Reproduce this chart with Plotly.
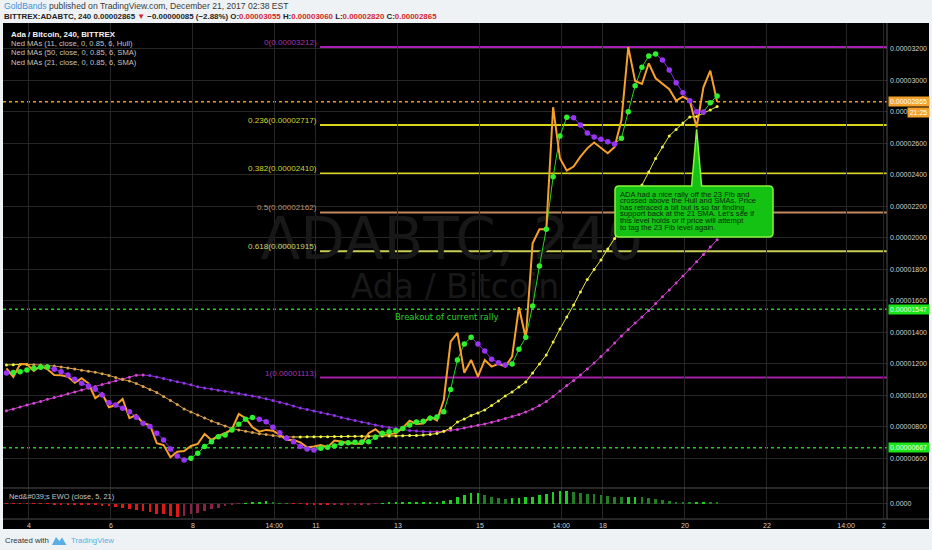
import plotly.graph_objects as go

W, H = 932, 550
SAT = 1e-8

# ---------------- data (prices in satoshi) ----------------
start_day = 3.45          # day-of-month of first 4h bar
bar_step = 1 / 6          # 4h bars

close_sat = [1172, 1117, 1200, 1198, 1155, 1187, 1166, 1130, 1128, 1119,
             1081, 1109, 1077, 982, 1014, 925, 939, 977, 855, 876,
             823, 812, 696, 685, 607, 643, 647, 679, 692, 755,
             717, 743, 760, 785, 882, 855, 798, 770, 781, 776,
             749, 717, 717, 702, 671, 675, 685, 671, 713, 707,
             696, 696, 692, 760, 785, 749, 755, 760, 793, 840,
             819, 822, 866, 840, 971, 1341, 1397, 1144, 1225, 1119,
             1225, 1183, 1200, 1183, 1246, 1560, 1363, 1966, 2055, 2055,
             2830, 2506, 2427, 2453, 2516, 2569, 2606, 2569, 2538, 2578,
             2749, 3212, 2997, 2978, 3109, 3014, 2978, 2944, 2872, 2897,
             2872, 2703, 2957, 3062, 2865]

hull_sat = [1142, 1146, 1150, 1162, 1172, 1179, 1180, 1166, 1151, 1130,
            1103, 1077, 1060, 1039, 1003, 954, 939, 918, 897, 861,
            823, 802, 760, 717, 660, 616, 590, 601, 633, 675,
            706, 738, 749, 781, 817, 848, 859, 848, 833, 798,
            763, 728, 706, 675, 660, 654, 664, 671, 679, 696,
            700, 702, 704, 706, 734, 760, 770, 776, 790, 812,
            831, 836, 855, 863, 897, 1038, 1225, 1327, 1369, 1327,
            1282, 1230, 1208, 1193, 1200, 1293, 1369, 1568, 1822, 2055,
            2389, 2648, 2766, 2764, 2717, 2667, 2641, 2627, 2611, 2597,
            2633, 2802, 2966, 3084, 3156, 3168, 3130, 3067, 2986, 2922,
            2872, 2802, 2800, 2859, 2902]

sma50_sat = [903, 914, 926, 939, 950, 962, 975, 986, 998, 1010,
             1022, 1034, 1046, 1057, 1069, 1081, 1093, 1104, 1116, 1128,
             1130, 1126, 1117, 1107, 1097, 1087, 1077, 1067, 1055, 1047,
             1040, 1033, 1026, 1019, 1012, 1004, 996, 988, 978, 968,
             956, 946, 933, 920, 911, 901, 892, 882, 873, 860,
             850, 841, 831, 822, 812, 803, 797, 790, 784, 777,
             774, 771, 769, 769, 772, 779, 784, 793, 802, 810,
             819, 830, 841, 854, 866, 879, 895, 914, 936, 962,
             993, 1028, 1063, 1095, 1130, 1168, 1206, 1247, 1289, 1333,
             1378, 1419, 1460, 1498, 1540, 1583, 1626, 1670, 1714, 1758,
             1803, 1849, 1895, 1942, 1988]

sma21_sat = [1193, 1195, 1197, 1197, 1195, 1193, 1190, 1186, 1181, 1174,
             1168, 1160, 1153, 1147, 1138, 1127, 1114, 1101, 1091, 1076,
             1057, 1038, 1019, 993, 968, 943, 914, 895, 876, 857,
             838, 822, 806, 790, 781, 772, 765, 757, 751, 746,
             740, 737, 736, 736, 737, 737, 738, 738, 739, 739,
             740, 740, 741, 741, 742, 742, 743, 743, 744, 745,
             746, 748, 752, 758, 772, 793, 831, 850, 873, 889,
             908, 936, 965, 997, 1022, 1054, 1085, 1143, 1200, 1257,
             1339, 1422, 1498, 1574, 1657, 1736, 1800, 1860, 1930, 1997,
             2082, 2171, 2254, 2336, 2419, 2505, 2578, 2648, 2689, 2730,
             2768, 2771, 2792, 2813, 2834]

ewo_pct = [-1, -1, -1, -1, -1, -1.5, -1.5, -2, -2, -3,
           -3.5, -4, -5, -6, -7, -8, -11, -14, -17, -21,
           -25, -27, -33, -36, -42, -45, -42, -36, -31, -25,
           -19, -14, -8, -3.5, -1.5, 1, 4.5, 4.5, 7, 3.5,
           1, 0.7, -0.7, -1, -2.4, -3.4, -4.4, -5, -4.4, -4,
           -3.4, -2.7, -2.4, -1.7, -1, 0.7, 1.7, 2.4, 2.7, 3.4,
           3.4, 4, 4.4, 5, 7, 11, 20, 28, 34, 36,
           27, 20, 18, 16, 17, 18, 20, 23, 28, 32,
           37, 40, 40, 37, 34, 32, 30, 27, 25, 23,
           20, 20, 23, 20, 18, 15, 11, 7, 4.5, 3.4,
           2.4, 2.4, 2.4, 2, 1.7]

fib_ratios = ["0", "0.236", "0.382", "0.5", "0.618", "1"]
fib_sat = [3212, 2717, 2410, 2162, 1915, 1113]
fib_line_colors = ["#a81fb4", "#d9d61a", "#d9d61a", "#bf8a62", "#c9cc55", "#a81fa8"]
fib_text_colors = ["#a535b0", "#d6d42a", "#d6d42a", "#c4926a", "#cfd06a", "#a535ac"]

breakout_sat = 1547
support_sat = 667

price_ticks_sat = list(range(600, 3201, 200))
x_tick_days = [4, 6, 8, 9.98, 11, 13, 15, 16.98, 18, 20, 22, 23.93, 24.85]
x_tick_text = ["4", "6", "8", "14:00", "11", "13", "15", "14:00", "18", "20", "22", "14:00", "2"]

hdr_open, hdr_high, hdr_low, hdr_close = 3055, 3060, 2820, 2865
hdr_change, hdr_change_pct = -85, -2.88
countdown = "21:25"

callout_lines = ["ADA had a nice rally off the 23 Fib and",
                 "crossed above the Hull and SMAs. Price",
                 "has retraced a bit but is so far finding",
                 "support back at the 21 SMA. Let's see if",
                 "this level holds or if price will attempt",
                 "to tag the 23 Fib level again."]
callout_bar = 101

# ---------------- geometry helpers ----------------
PL, PR, PT, PB = 3, 887, 23, 488      # price pane in px
EB = 519                               # bottom of EWO pane
X_RANGE = [3.366, 24.927]
Y_RANGE = [412 * SAT, 3365 * SAT]


def xp(px):
    return px / W


def yp(py):
    return 1 - py / H


def day_at(px):
    return X_RANGE[0] + (px - PL) / (PR - PL) * (X_RANGE[1] - X_RANGE[0])


def val_at(py):
    return Y_RANGE[1] - (py - PT) / (PB - PT) * (Y_RANGE[1] - Y_RANGE[0])


def px_of_day(d):
    return PL + (d - X_RANGE[0]) / (X_RANGE[1] - X_RANGE[0]) * (PR - PL)


def py_of_val(v):
    return PT + (Y_RANGE[1] - v) / (Y_RANGE[1] - Y_RANGE[0]) * (PB - PT)


days = [start_day + i * bar_step for i in range(len(close_sat))]


def btc(arr):
    return [v * SAT for v in arr]


def seg_traces(xs, ys, up_col, dn_col, width):
    ux, uy, dx, dy = [], [], [], []
    for i in range(1, len(ys)):
        if ys[i] >= ys[i - 1]:
            tx, ty = ux, uy
        else:
            tx, ty = dx, dy
        tx += [xs[i - 1], xs[i], None]
        ty += [ys[i - 1], ys[i], None]
    return [go.Scatter(x=ux, y=uy, mode="lines", line=dict(color=up_col, width=width), hoverinfo="skip"),
            go.Scatter(x=dx, y=dy, mode="lines", line=dict(color=dn_col, width=width), hoverinfo="skip")]


def dot_colors(ys, up_col, dn_col, first):
    return [first] + [up_col if ys[i] >= ys[i - 1] else dn_col for i in range(1, len(ys))]


fig = go.Figure()

# watermark
fig.add_trace(go.Scatter(x=[day_at(452)], y=[val_at(244)], mode="text", text=["ADABTC, 240"],
                         textfont=dict(family="DejaVu Sans", size=58, color="#181818"), hoverinfo="skip"))
fig.add_trace(go.Scatter(x=[day_at(455)], y=[val_at(290)], mode="text", text=["Ada / Bitcoin"],
                         textfont=dict(family="DejaVu Sans", size=33, color="#181818"), hoverinfo="skip"))

# SMA 50
s50 = btc(sma50_sat)
for t in seg_traces(days, s50, "#cf3bcf", "#8b2be0", 1):
    fig.add_trace(t)
fig.add_trace(go.Scatter(x=days, y=s50, mode="markers", hoverinfo="skip",
                         marker=dict(size=3, color=dot_colors(sma50_sat, "#d548d5", "#9236e8", "#d548d5"))))
# SMA 21
s21 = btc(sma21_sat)
for t in seg_traces(days, s21, "#e6e638", "#d39a45", 1):
    fig.add_trace(t)
fig.add_trace(go.Scatter(x=days, y=s21, mode="markers", hoverinfo="skip",
                         marker=dict(size=3, color=dot_colors(sma21_sat, "#f2f24a", "#dca24e", "#f2f24a"))))
# Hull lines
hl = btc(hull_sat)
for t in seg_traces(days, hl, "#22d622", "#8a2be2", 1):
    fig.add_trace(t)
# price
fig.add_trace(go.Scatter(x=days, y=btc(close_sat), mode="lines", hoverinfo="skip",
                         line=dict(color="#f7a02a", width=2)))
# Hull dots
fig.add_trace(go.Scatter(x=days, y=hl, mode="markers", hoverinfo="skip",
                         marker=dict(size=5.5, color=dot_colors(hull_sat, "#2ef02e", "#9a34f5", "#9a34f5"))))

# EWO histogram
ewo_cols = []
for i, v in enumerate(ewo_pct):
    prev = ewo_pct[i - 1] if i > 0 else v
    if v >= 0:
        ewo_cols.append("#1fcf1f" if v >= prev else "#1f7f22")
    else:
        ewo_cols.append("#e01818" if v <= prev else "#8e1f48")
fig.add_trace(go.Bar(x=days, y=ewo_pct, xaxis="x2", yaxis="y2", width=0.065,
                     marker=dict(color=ewo_cols, line=dict(width=0)), hoverinfo="skip"))

shapes = []
ann = []

# chart background
shapes.append(dict(type="rect", xref="paper", yref="paper", x0=xp(3), x1=xp(929), y0=yp(529), y1=yp(23),
                   fillcolor="#000000", line=dict(width=0), layer="below"))

# fib levels
for r, v, lc, tc in zip(fib_ratios, fib_sat, fib_line_colors, fib_text_colors):
    shapes.append(dict(type="line", xref="paper", yref="y", x0=xp(320), x1=xp(PR), y0=v * SAT, y1=v * SAT,
                       line=dict(color=lc, width=2), layer="between"))
    ann.append(dict(xref="paper", yref="y", x=xp(318.5), y=v * SAT, xanchor="right", yanchor="bottom",
                    text=f"{r}({v * SAT:.8f})", showarrow=False, yshift=-2,
                    font=dict(family="Liberation Sans", size=8.1, color=tc)))

# dotted horizontal levels
for v, c in [(breakout_sat, "#25c925"), (support_sat, "#25c925"), (close_sat[-1], "#e8982e")]:
    shapes.append(dict(type="line", xref="paper", yref="y", x0=xp(PL), x1=xp(PR), y0=v * SAT, y1=v * SAT,
                       line=dict(color=c, width=1.5, dash="dot"), layer="between"))

ann.append(dict(xref="x", yref="y", x=day_at(447), y=breakout_sat * SAT, yanchor="top", xanchor="center",
                text="Breakout of current rally", showarrow=False, yshift=-1,
                font=dict(family="DejaVu Sans", size=8.5, color="#2bd02b")))

# pane separators / axis lines
shapes.append(dict(type="line", xref="paper", yref="paper", x0=xp(PR), x1=xp(PR), y0=yp(EB), y1=yp(PT),
                   line=dict(color="#4e4e4e", width=1)))
for yy in (PB, EB):
    shapes.append(dict(type="line", xref="paper", yref="paper", x0=xp(3), x1=xp(929), y0=yp(yy), y1=yp(yy),
                       line=dict(color="#4e4e4e", width=1)))

# callout box
tipx = px_of_day(days[callout_bar])
tipy = py_of_val(close_sat[callout_bar] * SAT) + 2
L, R, T, B, rr = 615, 773, 186, 237, 4


def P(a, b):
    return f"{xp(a):.5f},{yp(b):.5f}"


path = (f"M{P(L + rr, T)} L{P(tipx - 5, T)} L{P(tipx, tipy)} L{P(tipx + 5, T)} L{P(R - rr, T)} "
        f"Q{P(R, T)} {P(R, T + rr)} L{P(R, B - rr)} Q{P(R, B)} {P(R - rr, B)} L{P(L + rr, B)} "
        f"Q{P(L, B)} {P(L, B - rr)} L{P(L, T + rr)} Q{P(L, T)} {P(L + rr, T)} Z")
shapes.append(dict(type="path", xref="paper", yref="paper", path=path, fillcolor="#13c213",
                   line=dict(color="#86f53a", width=1.5), layer="above"))
for k, line in enumerate(callout_lines):
    ann.append(dict(xref="paper", yref="paper", x=xp(619), y=yp(194 + k * 6.6), xanchor="left",
                    yanchor="middle", text=line, showarrow=False, borderpad=0,
                    font=dict(family="Liberation Sans", size=7.6, color="#082a08")))

# price-axis labels
ann.append(dict(xref="paper", yref="y", x=xp(888), y=close_sat[-1] * SAT, xanchor="left", yanchor="middle",
                text=f"{close_sat[-1] * SAT:.8f}", showarrow=False, bgcolor="#f5a22c", borderpad=1, width=38,
                align="left", font=dict(family="Liberation Sans", size=7, color="#ffffff")))
ann.append(dict(xref="paper", yref="y", x=xp(907), y=close_sat[-1] * SAT, xanchor="left", yanchor="middle",
                yshift=-11, text=countdown, showarrow=False, bgcolor="#f5a22c", borderpad=1, width=19,
                font=dict(family="Liberation Sans", size=7, color="#ffffff")))
for v in (breakout_sat, support_sat):
    ann.append(dict(xref="paper", yref="y", x=xp(888), y=v * SAT, xanchor="left", yanchor="middle",
                    text=f"{v * SAT:.8f}", showarrow=False, bgcolor="#19e619", borderpad=1, width=38,
                    align="left", font=dict(family="Liberation Sans", size=7, color="#eaffea")))

# legend texts in chart
ann.append(dict(xref="paper", yref="paper", x=xp(9), y=yp(34.3), xanchor="left", yanchor="middle",
                text="<b>Ada / Bitcoin, 240, BITTREX</b>", showarrow=False,
                font=dict(family="Liberation Sans", size=7.9, color="#f2f2f2")))
for k, t in enumerate(["Ned MAs (11, close, 0, 0.85, 6, Hull)",
                       "Ned MAs (50, close, 0, 0.85, 6, SMA)",
                       "Ned MAs (21, close, 0, 0.85, 6, SMA)"]):
    ann.append(dict(xref="paper", yref="paper", x=xp(9), y=yp(43.7 + k * 9.3), xanchor="left", yanchor="middle",
                    text=t, showarrow=False, font=dict(family="Liberation Sans", size=7.6, color="#c4c4c4")))
ann.append(dict(xref="paper", yref="paper", x=xp(7), y=yp(496.5), xanchor="left", yanchor="middle",
                text="Ned&amp;#039;s EWO (close, 5, 21)", showarrow=False,
                font=dict(family="Liberation Sans", size=7.4, color="#c4c4c4")))

# header
ann.append(dict(xref="paper", yref="paper", x=xp(2), y=yp(6), xanchor="left", yanchor="middle",
                text="<span style='color:#3d93d6'>GoldBands</span> published on TradingView.com, December 21, 2017 02:38 EST",
                showarrow=False, font=dict(family="Liberation Sans", size=8.6, color="#3a3a3a")))
red = "#d2262a"
hdr = (f"<b>BITTREX:ADABTC, 240 {hdr_close * SAT:.8f} <span style='color:{red}'>▼</span> "
       f"−{abs(hdr_change) * SAT:.8f} (−{abs(hdr_change_pct):.2f}%) "
       f"O:<span style='color:{red}'>{hdr_open * SAT:.8f}</span> "
       f"H:<span style='color:{red}'>{hdr_high * SAT:.8f}</span> "
       f"L:<span style='color:{red}'>{hdr_low * SAT:.8f}</span> "
       f"C:<span style='color:{red}'>{hdr_close * SAT:.8f}</span></b>")
ann.append(dict(xref="paper", yref="paper", x=xp(2), y=yp(16.5), xanchor="left", yanchor="middle",
                text=hdr, showarrow=False, font=dict(family="Liberation Sans", size=7.9, color="#222222")))

# footer
ann.append(dict(xref="paper", yref="paper", x=xp(3), y=yp(540.5), xanchor="left", yanchor="middle",
                text="Created with", showarrow=False, font=dict(family="Liberation Sans", size=7.8, color="#333333")))
shapes.append(dict(type="path", xref="paper", yref="paper",
                   path=f"M{P(52, 545)} L{P(56, 537)} L{P(59.5, 541)} L{P(62, 537.5)} L{P(66.5, 545)} Z",
                   fillcolor="#5aaee4", line=dict(width=0)))
ann.append(dict(xref="paper", yref="paper", x=xp(69), y=yp(540.5), xanchor="left", yanchor="middle",
                text="TradingView", showarrow=False, font=dict(family="Liberation Sans", size=7.8, color="#5aaee4")))

grid = "#262626"
tickfont = dict(family="Liberation Sans", size=7, color="#d2d2d2")
fig.update_layout(
    width=W, height=H, margin=dict(l=0, r=0, t=0, b=0),
    paper_bgcolor="#eef2f5", plot_bgcolor="#000000", showlegend=False,
    xaxis=dict(domain=[xp(PL), xp(PR)], range=X_RANGE, anchor="y", tickvals=x_tick_days,
               showticklabels=False, gridcolor=grid, zeroline=False, showline=False, ticks=""),
    yaxis=dict(domain=[yp(PB), yp(PT)], range=Y_RANGE, anchor="x", side="right",
               tickvals=btc(price_ticks_sat), ticktext=[f"{v * SAT:.8f}" for v in price_ticks_sat],
               tickfont=tickfont, gridcolor=grid, zeroline=False, showline=False, ticks="",
               ticklabelstandoff=2),
    xaxis2=dict(domain=[xp(PL), xp(PR)], range=X_RANGE, anchor="y2", tickvals=x_tick_days,
                ticktext=x_tick_text, tickfont=tickfont, gridcolor=grid, zeroline=False,
                showline=False, ticks="", ticklabelstandoff=1),
    yaxis2=dict(domain=[yp(EB), yp(PB)], range=[-51, 51], anchor="x2", side="right",
                tickvals=[0], ticktext=["0.0000"], tickfont=tickfont, gridcolor=grid,
                zeroline=False, showline=False, ticks="", ticklabelstandoff=2),
    shapes=shapes, annotations=ann, bargap=0,
)

fig.write_html("out.html", config={"displayModeBar": False},
               post_script="document.body.style.margin='0';document.body.style.overflow='hidden';")
